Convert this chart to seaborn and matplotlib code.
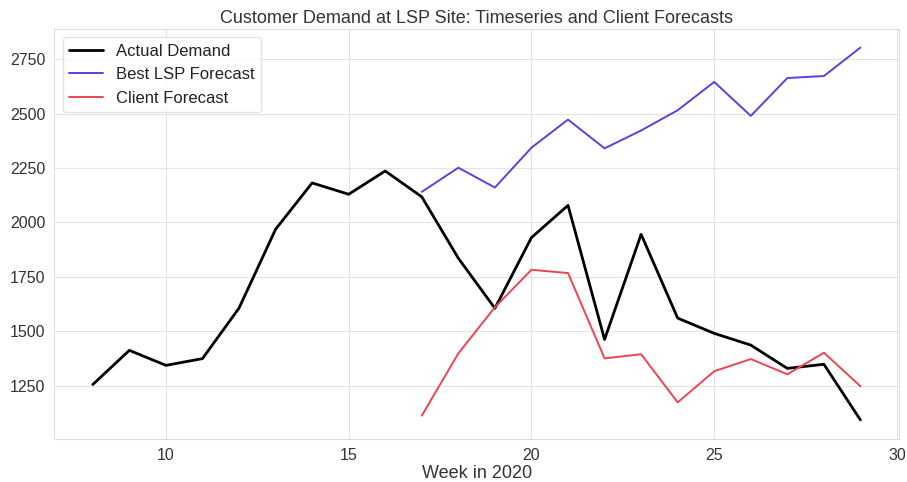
import matplotlib
matplotlib.use("Agg")
import matplotlib.pyplot as plt
import seaborn as sns
import pandas as pd

weeks = list(range(8, 30))
actual_demand = [1255, 1412, 1343, 1374, 1606, 1968, 2181, 2129, 2236, 2117,
                 1835, 1605, 1930, 2078, 1462, 1945, 1560, 1490, 1436, 1329,
                 1348, 1092]

forecast_weeks = list(range(17, 30))
best_lsp_forecast = [2140, 2251, 2160, 2343, 2472, 2340, 2422, 2515, 2645,
                     2489, 2663, 2672, 2803]
client_forecast = [1112, 1398, 1610, 1782, 1767, 1375, 1394, 1173, 1316,
                   1372, 1302, 1401, 1247]

sns.set_style("whitegrid")
plt.rcParams["font.family"] = ["Liberation Sans", "DejaVu Sans"]
plt.rcParams["axes.edgecolor"] = "#dddddd"
plt.rcParams["grid.color"] = "#e3e3e3"

actual_df = pd.DataFrame({"week": weeks, "demand": actual_demand})
lsp_df = pd.DataFrame({"week": forecast_weeks, "demand": best_lsp_forecast})
client_df = pd.DataFrame({"week": forecast_weeks, "demand": client_forecast})

fig, ax = plt.subplots(figsize=(9.07, 4.82), dpi=100)
sns.lineplot(data=actual_df, x="week", y="demand", ax=ax, color="black",
             linewidth=2, label="Actual Demand")
sns.lineplot(data=lsp_df, x="week", y="demand", ax=ax, color="#5b3fe3",
             linewidth=1.4, label="Best LSP Forecast")
sns.lineplot(data=client_df, x="week", y="demand", ax=ax, color="#ee4450",
             linewidth=1.4, label="Client Forecast")

ax.set_title("Customer Demand at LSP Site: Timeseries and Client Forecasts",
             fontsize=13, color="#333333", pad=4)
ax.set_xlabel("Week in 2020", fontsize=13, color="#333333", labelpad=2)
ax.set_ylabel("")
ax.set_xticks([10, 15, 20, 25, 30])
ax.set_yticks([1250, 1500, 1750, 2000, 2250, 2500, 2750])
ax.tick_params(axis="both", labelsize=11.5, colors="#333333", pad=3)
ax.set_xlim(6.95, 30.05)

leg = ax.legend(loc="upper left", fontsize=12, frameon=True)
leg.get_frame().set_edgecolor("#dddddd")
for t in leg.get_texts():
    t.set_color("#222222")

fig.subplots_adjust(left=0.06, right=0.991, top=0.94, bottom=0.09)
fig.savefig("out.png", dpi=100)
